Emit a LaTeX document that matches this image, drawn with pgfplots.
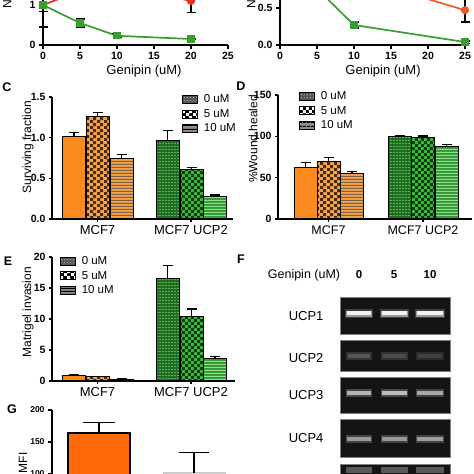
\documentclass[border=0pt]{standalone}
\usepackage{pgfplots}
\pgfplotsset{compat=1.18}
\usepackage{fontspec}
\setmainfont{Liberation Sans}
\usetikzlibrary{patterns}

\pgfdeclarepatternformonly{bigchecker}{\pgfqpoint{0pt}{0pt}}{\pgfqpoint{6.4pt}{6.4pt}}{\pgfqpoint{6.4pt}{6.4pt}}{%
  \pgfpathrectangle{\pgfqpoint{0pt}{0pt}}{\pgfqpoint{3.2pt}{3.2pt}}%
  \pgfpathrectangle{\pgfqpoint{3.2pt}{3.2pt}}{\pgfqpoint{3.2pt}{3.2pt}}%
  \pgfusepath{fill}}
\pgfdeclarepatternformonly{hstripes}{\pgfqpoint{0pt}{0pt}}{\pgfqpoint{3.4pt}{3.4pt}}{\pgfqpoint{3.4pt}{3.4pt}}{%
  \pgfpathrectangle{\pgfqpoint{0pt}{0pt}}{\pgfqpoint{3.4pt}{1.3pt}}%
  \pgfusepath{fill}}
\pgfdeclarepatternformonly{hdash}{\pgfqpoint{0pt}{0pt}}{\pgfqpoint{3.2pt}{3.2pt}}{\pgfqpoint{3.2pt}{3.2pt}}{%
  \pgfpathrectangle{\pgfqpoint{0pt}{0pt}}{\pgfqpoint{2.2pt}{1.1pt}}%
  \pgfusepath{fill}}

\definecolor{cgreen}{HTML}{3A9E2F}
\definecolor{cred}{HTML}{E8302A}
\definecolor{cred2}{HTML}{F05A28}
\definecolor{corange}{HTML}{FB8A1E}
\definecolor{corangeL}{HTML}{F7A448}
\definecolor{cbrown}{HTML}{4A2A10}
\definecolor{cgreenD}{HTML}{1F6E1F}
\definecolor{cgreenB}{HTML}{3DBA3D}
\definecolor{cgreenM}{HTML}{2E9A2E}
\definecolor{gorange}{HTML}{FF6A0A}

\pgfplotsset{
  gp/.style={scale only axis, anchor=south west, clip=false,
    axis x line*=bottom, axis y line*=left,
    axis line style={line width=1.3pt},
    every tick/.style={line width=1.3pt, black},
    tick align=outside, major tick length=4pt,
    tick label style={font=\bfseries\fontsize{10.5}{12}\selectfont},
    /pgf/number format/assume math mode=true},
  onedec/.style={yticklabel style={/pgf/number format/.cd, fixed, fixed zerofill, precision=1}},
  cat/.style={xticklabel style={font=\fontsize{#1}{15}\selectfont}, major tick length=3pt},
  barleg/.style={legend cell align=left,
    legend style={draw=none, fill=none, inner sep=0pt, row sep=1pt, column sep=4pt, font=\fontsize{11.5}{13}\selectfont, anchor=north west},
    legend image code/.code={\draw[##1, line width=0.7pt, draw=black] (0pt,-3.8pt) rectangle (15pt,4.2pt);}},
  eb/.style={/pgfplots/error bars/y dir=plus, /pgfplots/error bars/y explicit,
    /pgfplots/error bars/error bar style={line width=1.2pt, black},
    /pgfplots/error bars/error mark options={rotate=90, mark size=#1, line width=1.2pt, black}},
  ebl/.style={/pgfplots/error bars/y dir=both, /pgfplots/error bars/y explicit,
    /pgfplots/error bars/error bar style={line width=1.2pt, black},
    /pgfplots/error bars/error mark options={rotate=90, mark size=4.5pt, line width=1.2pt, black}},
  bb/.style={ybar, bar width=23, bar shift=0pt, draw=black, line width=1pt, forget plot, eb=5pt},
  o0/.style={bb, fill=corange},
  o5/.style={bb, fill=corangeL, postaction={pattern=bigchecker, pattern color=cbrown}},
  o10/.style={bb, fill=corangeL, postaction={pattern=hstripes, pattern color=cbrown!75}},
  g0/.style={bb, fill=cgreenD, postaction={pattern=hdash, pattern color=cgreenM!80!white}},
  g5/.style={bb, fill=cgreenB, postaction={pattern=bigchecker, pattern color=cgreenD!55!black}},
  g10/.style={bb, fill=cgreenM, postaction={pattern=hstripes, pattern color=cgreenB!55!white}},
}

\newcommand{\barlegend}{%
  \addlegendimage{fill=black!70, postaction={pattern=crosshatch dots, pattern color=white!80!black}}
  \addlegendentry{0 uM}
  \addlegendimage{fill=black, postaction={pattern=bigchecker, pattern color=white}}
  \addlegendentry{5 uM}
  \addlegendimage{fill=black!45, postaction={pattern=hstripes, pattern color=black}}
  \addlegendentry{10 uM}
}

\begin{document}
\begin{tikzpicture}
\useasboundingbox (0pt,0pt) rectangle (474pt,474pt);

% ---------------- Panel A ----------------
\begin{axis}[gp, at={(43pt,429pt)}, width=185pt, height=80pt,
  xmin=0, xmax=25, ymin=0, ymax=2,
  xtick={0,5,10,15,20,25}, ytick={0,1},
  xlabel={Genipin (uM)},
  xlabel style={font=\fontsize{13}{15}\selectfont, at={(axis description cs:0.546,0)}, anchor=center, yshift=-26pt}]
\addplot[cred, line width=1.7pt, mark=*, mark size=3.2pt, ebl] coordinates {
  (0,1) +- (0,0.55)
  (5,1.35) +- (0,0.2)
  (10,1.5) +- (0,0.2)
  (20,1.1) +- (0,0.28)};
\addplot[cgreen, line width=1.7pt, mark=square*, mark size=2.8pt, ebl] coordinates {
  (0,1) +- (0,0.17)
  (5,0.55) +- (0,0.1)
  (10,0.23) +- (0,0.05)
  (20,0.15) +- (0,0.02)};
\end{axis}

% ---------------- Panel B ----------------
\begin{axis}[gp, onedec, at={(280pt,429pt)}, width=185pt, height=111pt,
  xmin=0, xmax=25, ymin=0, ymax=1.5,
  xtick={0,5,10,15,20,25}, ytick={0,0.5},
  xlabel={Genipin (uM)},
  xlabel style={font=\fontsize{13}{15}\selectfont, at={(axis description cs:0.557,0)}, anchor=center, yshift=-26pt}]
\addplot[cred2, line width=1.7pt, mark=*, mark size=3.2pt, ebl] coordinates {
  (0,1) +- (0,0.05)
  (5,0.95) +- (0,0.05)
  (10,0.92) +- (0,0.05)
  (25,0.47) +- (0,0.16)};
\addplot[cgreen, line width=1.7pt, mark=square*, mark size=2.8pt, ebl] coordinates {
  (0,1) +- (0,0.05)
  (5,0.76) +- (0,0.05)
  (10,0.27) +- (0,0.04)
  (25,0.04) +- (0,0.015)};
\end{axis}

% ---------------- Panel C ----------------
\begin{axis}[gp, onedec, cat=13, barleg, at={(52pt,255pt)}, width=181pt, height=122pt,
  xmin=52, xmax=233, ymin=0, ymax=1.5,
  ytick={0,0.5,1,1.5}, xtick={97.5,191}, xticklabels={MCF7, MCF7 UCP2},
  legend style={at={(axis description cs:0.718,1.035)}}]
\barlegend
\addplot[o0] coordinates {(74,1.01) +- (0,0.05)};
\addplot[o5] coordinates {(97.5,1.257) +- (0,0.057)};
\addplot[o10] coordinates {(121.5,0.739) +- (0,0.057)};
\addplot[g0] coordinates {(167.5,0.971) +- (0,0.115)};
\addplot[g5] coordinates {(191.5,0.604) +- (0,0.029)};
\addplot[g10] coordinates {(215,0.278) +- (0,0.016)};
\end{axis}

% ---------------- Panel D ----------------
\begin{axis}[gp, cat=12.5, barleg, at={(278pt,255pt)}, width=194pt, height=124pt,
  xmin=278, xmax=472, ymin=0, ymax=150,
  ytick={0,50,100,150}, xtick={328.5,423}, xticklabels={MCF7, MCF7 UCP2},
  legend style={at={(axis description cs:0.108,1.045)}}]
\barlegend
\addplot[o0] coordinates {(305.5,62.3) +- (0,6.1)};
\addplot[o5] coordinates {(328.5,69.6) +- (0,5.2)};
\addplot[o10] coordinates {(352,54.7) +- (0,2.8)};
\addplot[g0] coordinates {(399.5,99.7) +- (0,0.8)};
\addplot[g5] coordinates {(423,98.9) +- (0,1.5)};
\addplot[g10] coordinates {(446.5,87.7) +- (0,2.4)};
\end{axis}

% ---------------- Panel E ----------------
\begin{axis}[gp, cat=13, barleg, at={(52pt,93pt)}, width=183pt, height=124pt,
  xmin=52, xmax=235, ymin=0, ymax=20,
  ytick={0,5,10,15,20}, xtick={97.5,191}, xticklabels={MCF7, MCF7 UCP2},
  legend style={at={(axis description cs:0.043,1.02)}}]
\barlegend
\addplot[o0] coordinates {(74,0.91) +- (0,0.1)};
\addplot[o5] coordinates {(97.5,0.65) +- (0,0.1)};
\addplot[o10] coordinates {(121.5,0.27) +- (0,0.05)};
\addplot[g0] coordinates {(167.5,16.5) +- (0,2.1)};
\addplot[g5] coordinates {(191.5,10.4) +- (0,1.2)};
\addplot[g10] coordinates {(215,3.6) +- (0,0.4)};
\end{axis}

% ---------------- Panel G ----------------
\begin{axis}[gp, at={(52pt,-64pt)}, width=183pt, height=128pt,
  xmin=52, xmax=235, ymin=0, ymax=200,
  ytick={100,150,200}, xtick=\empty,
  tick label style={font=\bfseries\fontsize{8.5}{10}\selectfont}]
\addplot[ybar, bar width=62, bar shift=0pt, draw=black, line width=1.3pt, fill=gorange, eb=16pt] coordinates {(99,164) +- (0,16)};
\addplot[ybar, bar width=62, bar shift=0pt, draw=black!22, line width=0.8pt, fill=black!17, eb=15pt] coordinates {(194,102) +- (0,32)};
\end{axis}

% ---------------- Panel F (gel) ----------------
\begin{axis}[at={(0pt,0pt)}, anchor=south west, scale only axis, width=474pt, height=474pt,
  xmin=0, xmax=474, ymin=0, ymax=474, hide axis, clip=false]
\addplot[fill=black!92, draw=black!50, line width=0.7pt] coordinates {(340,177) (450,177) (450,140) (340,140)} -- cycle;
\addplot[fill=black!92, draw=black!50, line width=0.7pt] coordinates {(340,134) (450,134) (450,103) (340,103)} -- cycle;
\addplot[fill=black!92, draw=black!50, line width=0.7pt] coordinates {(340,97) (450,97) (450,61) (340,61)} -- cycle;
\addplot[fill=black!92, draw=black!50, line width=0.7pt] coordinates {(340,55) (450,55) (450,17) (340,17)} -- cycle;
\addplot[fill=black!92, draw=black!50, line width=0.7pt] coordinates {(340,10) (450,10) (450,-10) (340,-10)} -- cycle;
% UCP1 bands
\addplot[black!75, line width=9pt] coordinates {(345,160) (373,160)};
\addplot[black!75, line width=9pt] coordinates {(380,160) (409,160)};
\addplot[black!75, line width=9pt] coordinates {(415,160) (445,160)};
\addplot[black!40, line width=6pt] coordinates {(346,160) (372,160)};
\addplot[black!40, line width=6pt] coordinates {(381,160) (408,160)};
\addplot[black!40, line width=6pt] coordinates {(416,160) (444,160)};
\addplot[white!95!black, line width=3.5pt] coordinates {(347,161) (371,161)};
\addplot[white!95!black, line width=3.5pt] coordinates {(382,161) (407,161)};
\addplot[white!95!black, line width=3.5pt] coordinates {(417,161) (443,161)};
% UCP2 bands
\addplot[black!80, line width=8pt] coordinates {(346,118) (372,118)};
\addplot[black!80, line width=8pt] coordinates {(381,118) (408,118)};
\addplot[black!83, line width=8pt] coordinates {(416,118) (444,118)};
\addplot[black!66, line width=4pt] coordinates {(348,118) (370,118)};
\addplot[black!70, line width=4pt] coordinates {(383,118) (406,118)};
\addplot[black!74, line width=4pt] coordinates {(418,118) (442,118)};
% UCP3 bands
\addplot[black!72, line width=8pt] coordinates {(346,81) (372,81)};
\addplot[black!72, line width=8pt] coordinates {(381,81) (408,81)};
\addplot[black!74, line width=8pt] coordinates {(416,81) (444,81)};
\addplot[black!30, line width=4pt] coordinates {(347,81) (371,81)};
\addplot[black!26, line width=4pt] coordinates {(382,81) (407,81)};
\addplot[black!34, line width=4pt] coordinates {(417,81) (443,81)};
% UCP4 bands
\addplot[black!74, line width=8pt] coordinates {(346,35) (372,35)};
\addplot[black!74, line width=8pt] coordinates {(381,35) (408,35)};
\addplot[black!74, line width=8pt] coordinates {(416,35) (444,35)};
\addplot[black!40, line width=4pt] coordinates {(347,35) (371,35)};
\addplot[black!40, line width=4pt] coordinates {(382,35) (407,35)};
\addplot[black!38, line width=4pt] coordinates {(417,35) (443,35)};
% fifth band (cut)
\addplot[black!65, line width=6pt] coordinates {(346,4) (372,4)};
\addplot[black!65, line width=6pt] coordinates {(381,4) (408,4)};
\addplot[black!65, line width=6pt] coordinates {(416,4) (444,4)};
\end{axis}

% ---------------- Text ----------------
\node[font=\bfseries\fontsize{12.5}{14}\selectfont] at (7pt,387pt) {C};
\node[font=\bfseries\fontsize{12.5}{14}\selectfont] at (241pt,388pt) {D};
\node[font=\bfseries\fontsize{12.5}{14}\selectfont] at (8pt,213pt) {E};
\node[font=\bfseries\fontsize{12.5}{14}\selectfont] at (241pt,215pt) {F};
\node[font=\bfseries\fontsize{12.5}{14}\selectfont] at (12pt,65pt) {G};

\node[rotate=90, anchor=west, font=\fontsize{12}{13}\selectfont] at (7pt,462pt) {Normalized OD};
\node[rotate=90, anchor=west, font=\fontsize{12}{13}\selectfont] at (251pt,462pt) {Normalized OD};
\node[rotate=90, font=\fontsize{12}{13}\selectfont] at (28pt,327pt) {Surviving fraction};
\node[rotate=90, font=\fontsize{12}{13}\selectfont] at (253pt,335pt) {\%Wound healed};
\node[rotate=90, font=\fontsize{12}{13}\selectfont] at (28pt,162pt) {Matrigel invasion};
\node[rotate=90, anchor=east, font=\fontsize{12}{13}\selectfont] at (23pt,25pt) {Mean MFI};

\node[font=\fontsize{12.5}{14}\selectfont] at (304pt,199pt) {Genipin (uM)};
\node[font=\bfseries\fontsize{11.5}{13}\selectfont] at (359pt,199pt) {0};
\node[font=\bfseries\fontsize{11.5}{13}\selectfont] at (394pt,199pt) {5};
\node[font=\bfseries\fontsize{11.5}{13}\selectfont] at (430pt,199pt) {10};
\node[anchor=east, font=\fontsize{13}{15}\selectfont] at (327pt,158pt) {UCP1};
\node[anchor=east, font=\fontsize{13}{15}\selectfont] at (327pt,116pt) {UCP2};
\node[anchor=east, font=\fontsize{13}{15}\selectfont] at (327pt,79pt) {UCP3};
\node[anchor=east, font=\fontsize{13}{15}\selectfont] at (327pt,36pt) {UCP4};
\end{tikzpicture}
\end{document}
